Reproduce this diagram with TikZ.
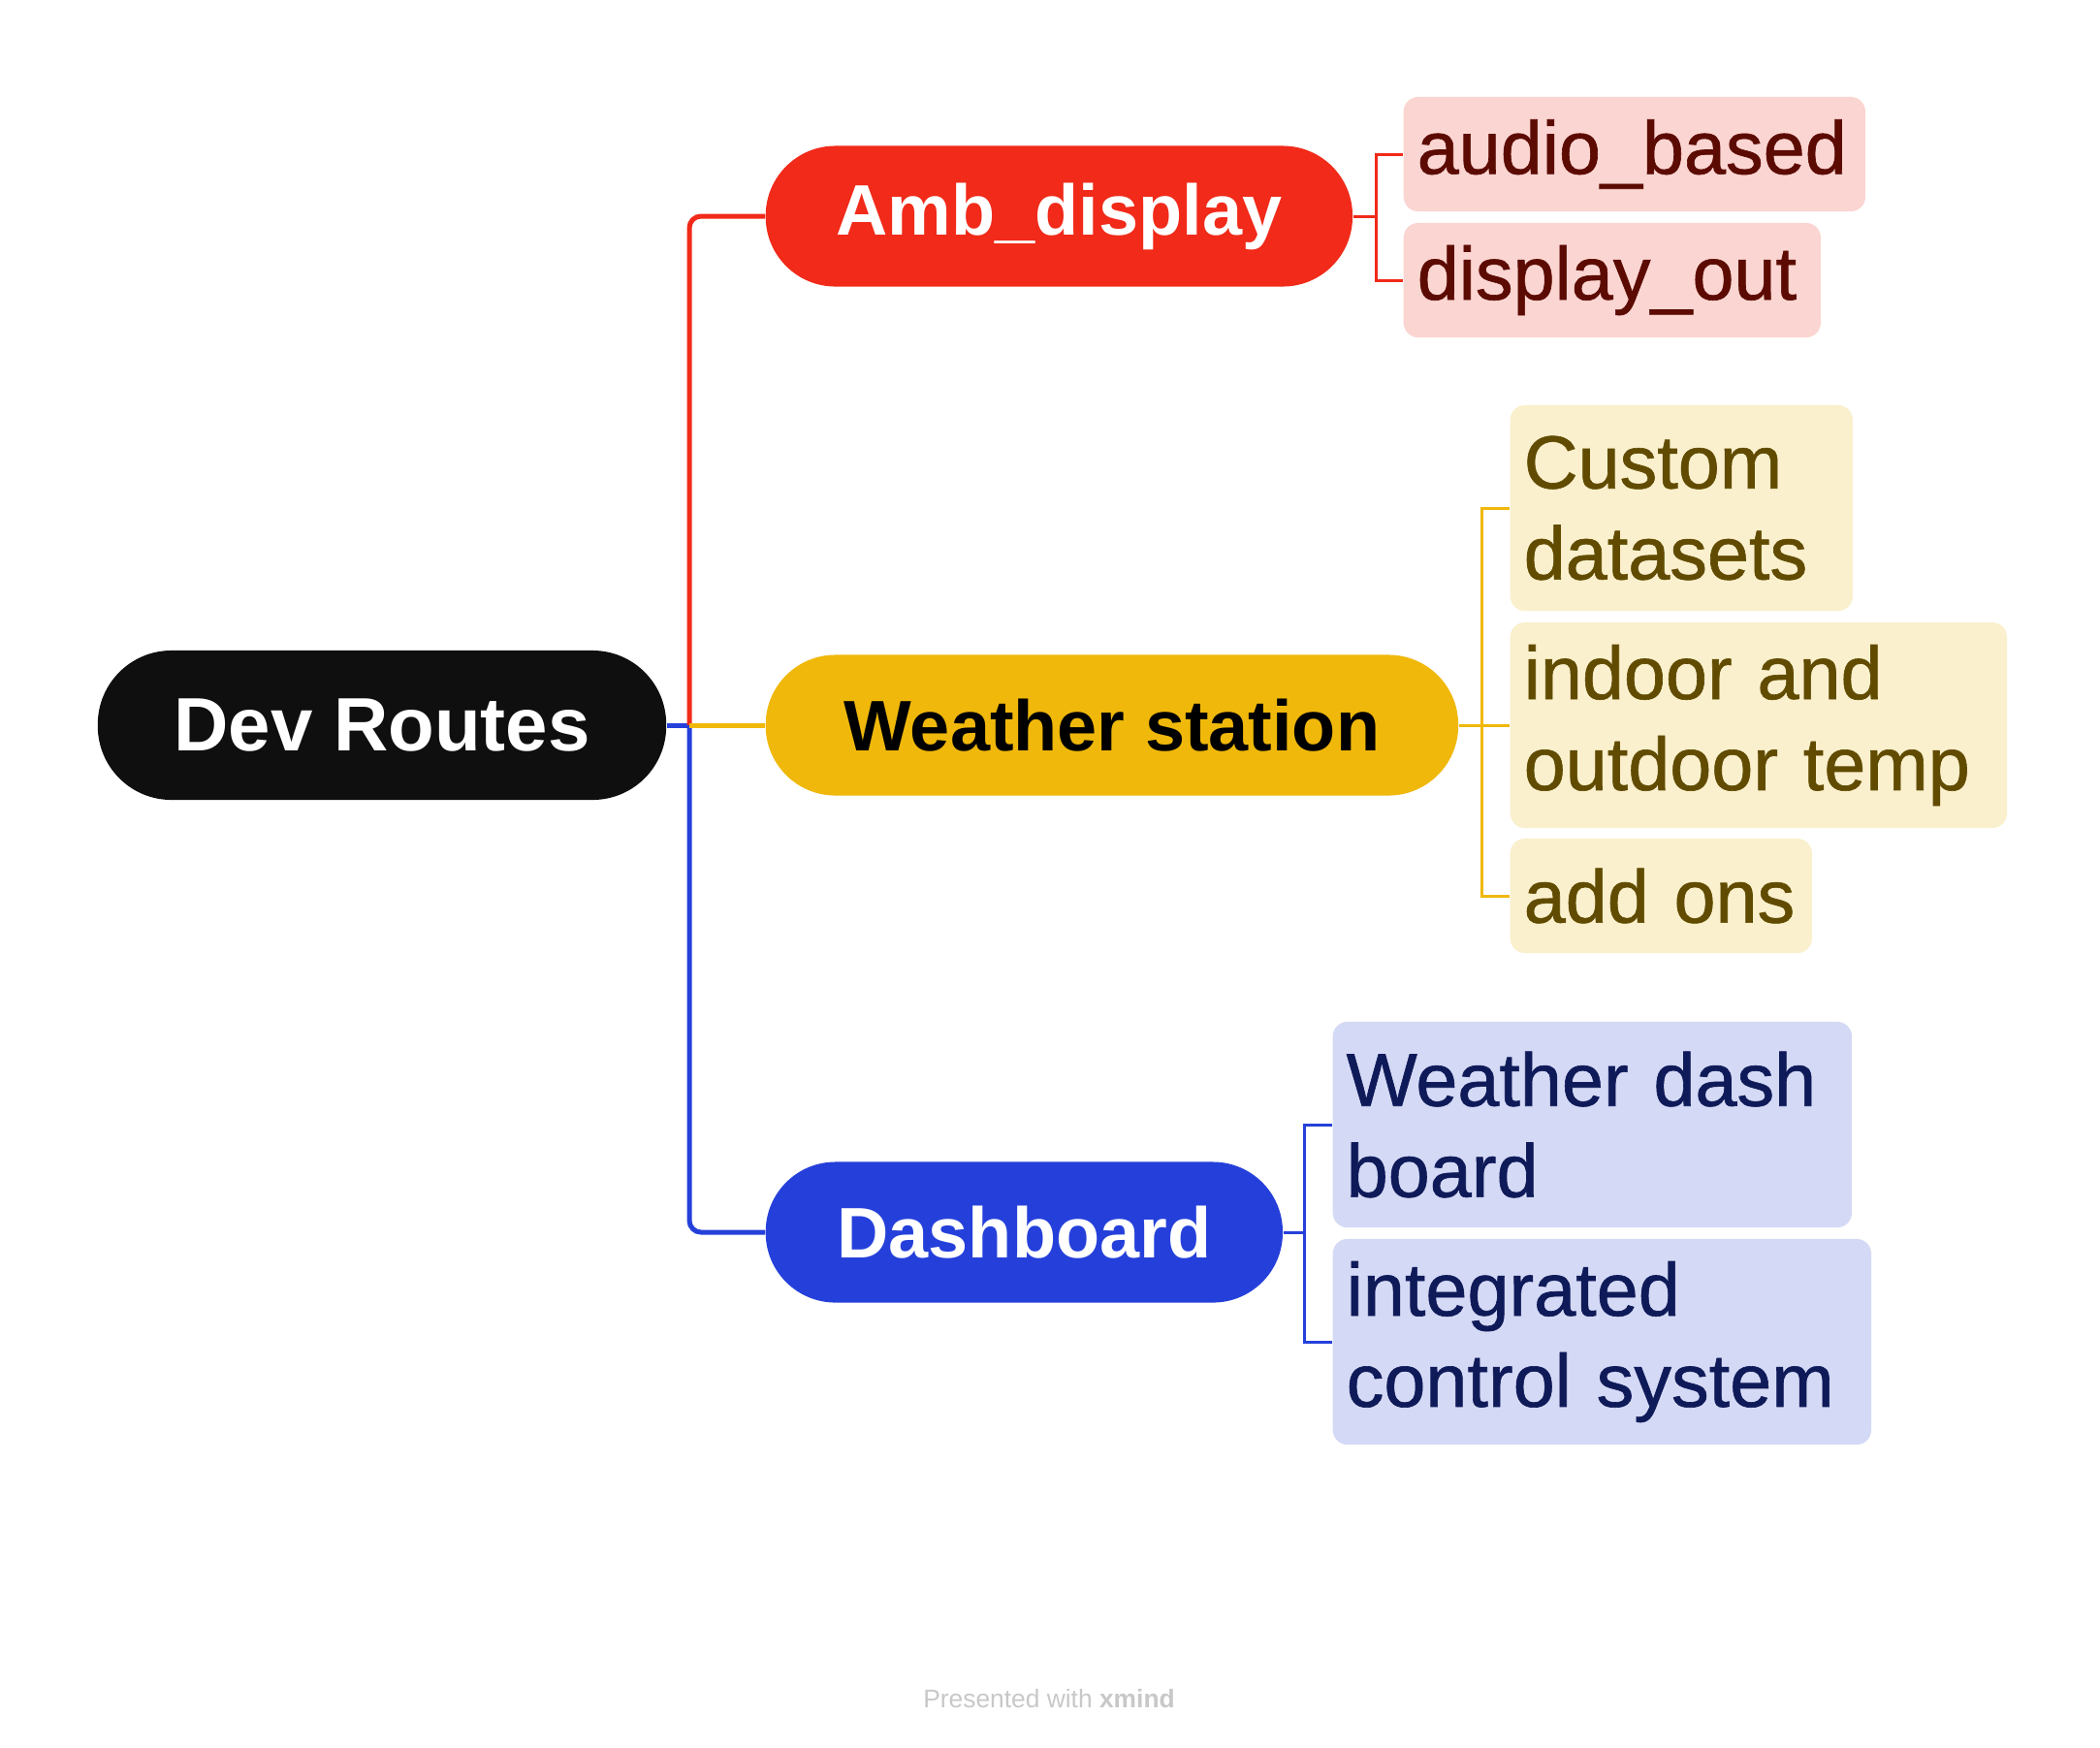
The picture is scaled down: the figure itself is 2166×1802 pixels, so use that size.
\documentclass[tikz,border=0pt]{standalone}
\usepackage{fontspec}
\setmainfont{Liberation Sans}
\newfontfamily\leaffont[FakeBold=0.8]{Liberation Sans}

\definecolor{rootblack}{HTML}{0F0F0F}
\definecolor{ambred}{HTML}{F12A19}
\definecolor{wsyellow}{HTML}{F0B80A}
\definecolor{dashblue}{HTML}{2540DA}
\definecolor{ambleaf}{HTML}{FBD5D1}
\definecolor{ambtext}{HTML}{5C0B03}
\definecolor{wsleaf}{HTML}{FAF0CD}
\definecolor{wstext}{HTML}{614B00}
\definecolor{dashleaf}{HTML}{D4D9F5}
\definecolor{dashtext}{HTML}{0F1A59}
\definecolor{footgray}{HTML}{C8C8C8}

\begin{document}
\begin{tikzpicture}[
  x=0.01cm,
  y=-0.01cm,
  rootnode/.style={fill=rootblack, text=white, rounded corners=0.76cm, minimum height=1.54cm, font=\fontsize{22.2}{26}\selectfont\bfseries},
  topic/.style={anchor=west, rounded corners=0.72cm, minimum height=1.45cm, font=\fontsize{21}{25}\selectfont\bfseries},
  leaf/.style={anchor=west, rounded corners=0.15cm, inner xsep=0.14cm, align=left, font=\leaffont\fontsize{22}{26.7}\selectfont},
  oneline/.style={leaf, minimum height=1.18cm},
  twoline/.style={leaf, minimum height=2.12cm},
  trunk/.style={line width=0.05cm},
  twig/.style={line width=0.03cm}
]
\useasboundingbox[fill=white] (0,0) rectangle (2166,1802);

% central topic and main branches
\node[rootnode, minimum width=5.86cm] (root) at (394,748) {Dev Routes};
\node[topic, fill=ambred, text=white, minimum width=6.05cm] (amb) at (789,223) {Amb\_display};
\node[topic, fill=wsyellow, text=black, minimum width=7.14cm] (ws) at (789,748) {Weather station};
\node[topic, fill=dashblue, text=white, minimum width=5.33cm] (dash) at (789,1271) {Dashboard};

\coordinate (hub) at (711,748);
\draw[trunk, dashblue] (root.east) -- (hub);
\draw[trunk, ambred, rounded corners=0.12cm] (hub) |- (amb.west);
\draw[trunk, dashblue, rounded corners=0.12cm] (hub) |- (dash.west);
\draw[trunk, wsyellow] (hub) -- (ws.west);

% Amb_display
\node[oneline, fill=ambleaf, text=ambtext, text width=4.48cm] (audio) at (1447,159) {audio\_based};
\node[oneline, fill=ambleaf, text=ambtext, text width=4.02cm] (dispout) at (1447,289) {display\_out};
\coordinate (ambfork) at (1419,223);
\draw[twig, ambred] (amb.east) -- (ambfork);
\draw[twig, ambred] (ambfork) |- (audio.west);
\draw[twig, ambred] (ambfork) |- (dispout.west);

% Weather station
\node[twoline, fill=wsleaf, text=wstext, text width=3.25cm] (custom) at (1557,524) {Custom\\datasets};
\node[twoline, fill=wsleaf, text=wstext, text width=4.84cm] (indoor) at (1557,748) {indoor and\\outdoor temp};
\node[oneline, fill=wsleaf, text=wstext, text width=2.83cm] (addons) at (1557,924) {add ons};
\coordinate (wsfork) at (1528,748);
\draw[twig, wsyellow] (ws.east) -- (wsfork);
\draw[twig, wsyellow] (wsfork) |- (custom.west);
\draw[twig, wsyellow] (wsfork) -- (indoor.west);
\draw[twig, wsyellow] (wsfork) |- (addons.west);

% Dashboard
\node[twoline, fill=dashleaf, text=dashtext, text width=5.07cm] (wdash) at (1374,1160) {Weather dash\\board};
\node[twoline, fill=dashleaf, text=dashtext, text width=5.27cm] (integ) at (1374,1384) {integrated\\control system};
\coordinate (dashfork) at (1345,1271);
\draw[twig, dashblue] (dash.east) -- (dashfork);
\draw[twig, dashblue] (dashfork) |- (wdash.west);
\draw[twig, dashblue] (dashfork) |- (integ.west);

\node[text=footgray, font=\fontsize{7.5}{9}\selectfont] (credit) at (1082,1752) {Presented with \textbf{xmind}};
\end{tikzpicture}
\end{document}
